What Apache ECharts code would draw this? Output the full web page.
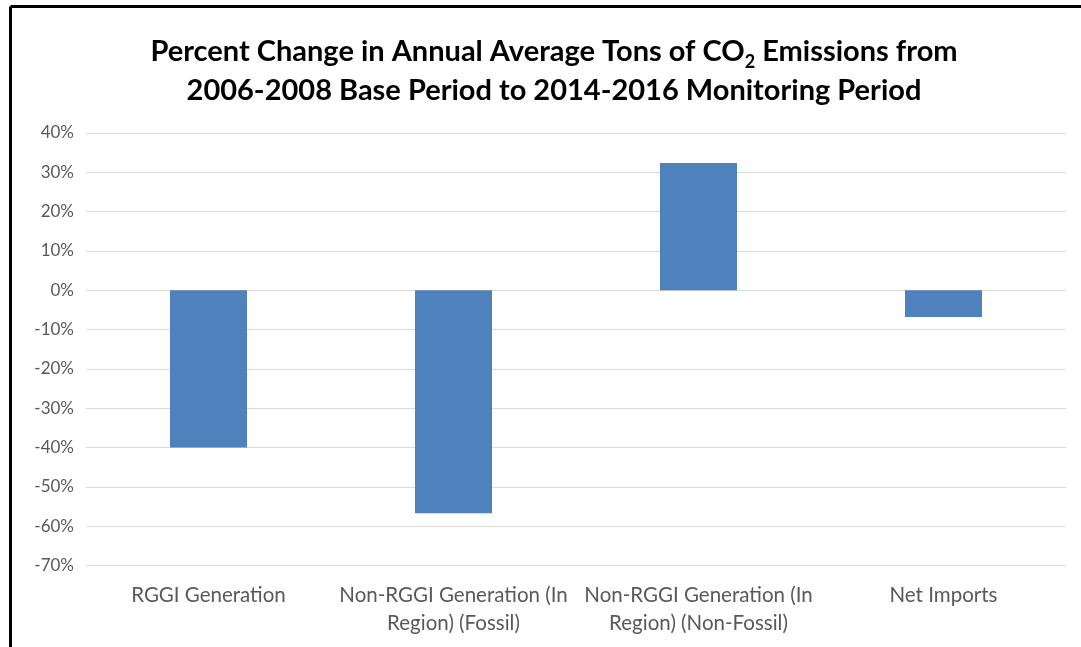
<!DOCTYPE html>
<html><head><meta charset="utf-8">
<script src="https://cdn.jsdelivr.net/npm/echarts@6/dist/echarts.min.js"></script>
<style>html,body{margin:0;padding:0;background:#fff}#c{width:1081px;height:647px}</style>
</head><body><div id="c"></div>
<script>
const categories = ['RGGI Generation', 'Non-RGGI Generation (In\nRegion) (Fossil)', 'Non-RGGI Generation (In\nRegion) (Non-Fossil)', 'Net Imports'];
const values = [-40.0, -56.7, 32.4, -6.8];
const yTicks = { min: -70, max: 40, interval: 10 };

const chart = echarts.init(document.getElementById('c'));
chart.setOption({
  animation: false,
  backgroundColor: '#fff',
  title: {
    text: 'Percent Change in Annual Average Tons of CO{sub|2} Emissions from\n2006-2008 Base Period to 2014-2016 Monitoring Period',
    left: 549, top: 27, textAlign: 'center',
    textStyle: {
      fontFamily: 'Lato', fontWeight: 'bold', fontSize: 29, color: '#000', lineHeight: 39,
      rich: { sub: { fontFamily: 'Lato', fontWeight: 'bold', fontSize: 18, color: '#000', verticalAlign: 'bottom', padding: [14, 0, 0, 0], lineHeight: 39 } }
    }
  },
  graphic: [
    { type: 'line', shape: { x1: 10.5, y1: 6.5, x2: 1081, y2: 6.5 }, style: { stroke: '#000', lineWidth: 3 } },
    { type: 'line', shape: { x1: 10.5, y1: 6.5, x2: 10.5, y2: 647 }, style: { stroke: '#000', lineWidth: 3 } }
  ],
  grid: { left: 86, right: 15, top: 133, bottom: 81.5, containLabel: false },
  xAxis: {
    type: 'category', data: categories, position: 'bottom',
    axisLine: { show: false }, axisTick: { show: false },
    axisLabel: { color: '#595959', fontFamily: 'Lato', fontSize: 20.5, lineHeight: 28, margin: 16, interval: 0 }
  },
  yAxis: {
    type: 'value', min: yTicks.min, max: yTicks.max, interval: yTicks.interval,
    axisLine: { show: false }, axisTick: { show: false },
    axisLabel: { color: '#595959', fontFamily: 'Lato', fontSize: 17, margin: 12, formatter: v => v + '%' },
    splitLine: { lineStyle: { color: '#d9d9d9', width: 1 } }
  },
  series: [{
    type: 'bar', data: values, barWidth: 77,
    itemStyle: { color: '#4F81BD' }
  }]
});
</script></body></html>
